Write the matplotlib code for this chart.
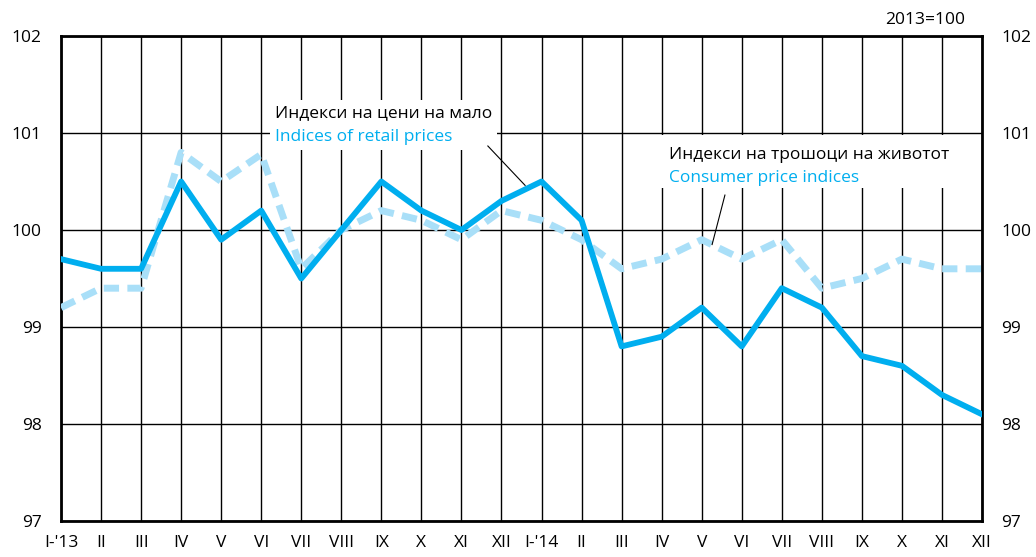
import numpy as np
import matplotlib.pyplot as plt
from matplotlib.patches import Rectangle

# месеци
months = ["I-'13", 'II', 'III', 'IV', 'V', 'VI', 'VII', 'VIII', 'IX', 'X', 'XI', 'XII',
          "I-'14", 'II', 'III', 'IV', 'V', 'VI', 'VII', 'VIII', 'IX', 'X', 'XI', 'XII']

# Индекси на цени на мало
retail = [99.7, 99.6, 99.6, 100.5, 99.9, 100.2, 99.5, 100.0, 100.5, 100.2, 100.0, 100.3,
          100.5, 100.1, 98.8, 98.9, 99.2, 98.8, 99.4, 99.2, 98.7, 98.6, 98.3, 98.1]

# Индекси на трошоци на животот
cpi = [99.2, 99.4, 99.4, 100.8, 100.5, 100.78, 99.6, 100.0, 100.2, 100.1, 99.9, 100.2,
       100.1, 99.9, 99.6, 99.7, 99.9, 99.7, 99.9, 99.4, 99.5, 99.7, 99.6, 99.6]

plt.rcParams['font.family'] = ['Open Sans', 'DejaVu Sans']

blue = '#00aeef'
light = '#a9dff8'
fs = 12.5

fig = plt.figure(figsize=(10.36, 5.57), dpi=100)
ax = fig.add_axes([61 / 1036, 1 - 521 / 557, 921 / 1036, 485 / 557])

x = np.arange(len(months))
ax.plot(x, cpi, color=light, lw=5, dashes=(2.2, 1.2), solid_capstyle='butt', zorder=3)
ax.plot(x, retail, color=blue, lw=4.2, zorder=4)

ax.set_xlim(0, len(months) - 1)
ax.set_ylim(97, 102)
ax.set_xticks(x)
ax.set_xticklabels(months, fontsize=fs)
ax.set_yticks([97, 98, 99, 100, 101, 102])
ax.tick_params(axis='both', length=0, labelsize=fs)
ax.tick_params(axis='y', labelright=True, pad=14)
ax.tick_params(axis='x', pad=10)
ax.grid(True, color='black', lw=1)
for s in ax.spines.values():
    s.set_linewidth(2)

# бели полиња под белешките
ax.add_patch(Rectangle((5.22, 100.825), 5.67, 0.515, facecolor='white',
                       edgecolor='none', zorder=2.5))
ax.add_patch(Rectangle((14.8, 100.43), 8.0, 0.545, facecolor='white',
                       edgecolor='none', zorder=2.5))

# белешки
ax.text(5.34, 101.21, 'Индекси на цени на мало', fontsize=fs, color='black',
        va='center', zorder=5)
ax.text(5.34, 100.96, 'Indices of retail prices', fontsize=fs, color=blue,
        va='center', zorder=5)
ax.plot([10.66, 11.59], [100.866, 100.46], color='black', lw=0.8, zorder=5)

ax.text(15.18, 100.77, 'Индекси на трошоци на животот', fontsize=fs, color='black',
        va='center', zorder=5)
ax.text(15.18, 100.54, 'Consumer price indices', fontsize=fs, color=blue,
        va='center', zorder=5)
ax.plot([16.58, 16.26], [100.36, 99.85], color='black', lw=0.8, zorder=5)

fig.text(965 / 1036, 1 - 20 / 557, '2013=100', fontsize=fs, ha='right', va='center')

fig.savefig('out.png', dpi=100)
